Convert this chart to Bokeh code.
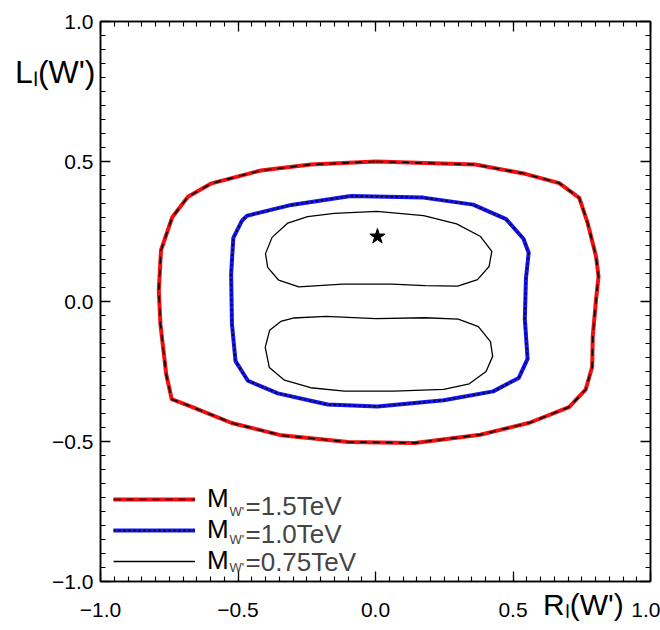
from bokeh.plotting import figure
from bokeh.models import (LinearAxis, SingleIntervalTicker, FixedTicker, Label,
                          Legend, LegendItem, Range1d)
from bokeh.embed import file_html
from bokeh.resources import INLINE
from bokeh.core.properties import value

# ---------------- data ----------------
# M_W' = 1.5 TeV contour
red_x = [0.002, 0.363, 0.544, 0.668, 0.741, 0.771, 0.802, 0.811, 0.802, 0.790,
         0.788, 0.764, 0.704, 0.560, 0.381, 0.143, -0.099, -0.342, -0.523, -0.668,
         -0.741, -0.761, -0.782, -0.788, -0.780, -0.739, -0.682, -0.596, -0.417,
         -0.236]
red_y = [0.500, 0.489, 0.456, 0.423, 0.370, 0.282, 0.161, 0.089, 0.007, -0.125,
         -0.233, -0.315, -0.377, -0.433, -0.476, -0.505, -0.502, -0.478, -0.434,
         -0.376, -0.349, -0.260, -0.082, 0.040, 0.183, 0.301, 0.374, 0.422, 0.468,
         0.489]

# M_W' = 1.0 TeV contour
blue_x = [-0.090, 0.174, 0.355, 0.475, 0.538, 0.557, 0.547, 0.543, 0.553, 0.521,
          0.428, 0.248, 0.007, -0.174, -0.355, -0.464, -0.509, -0.522, -0.525,
          -0.517, -0.486, -0.468, -0.306]
blue_y = [0.377, 0.371, 0.346, 0.294, 0.224, 0.174, 0.081, -0.062, -0.205, -0.273,
          -0.321, -0.353, -0.375, -0.368, -0.328, -0.283, -0.213, -0.081, 0.098,
          0.227, 0.288, 0.306, 0.345]

# M_W' = 0.75 TeV contours (two islands)
upper_x = [-0.150, 0.005, 0.175, 0.295, 0.382, 0.423, 0.413, 0.371, 0.299, 0.180,
           0.060, -0.120, -0.279, -0.352, -0.392, -0.400, -0.376, -0.319, -0.247]
upper_y = [0.315, 0.322, 0.307, 0.277, 0.232, 0.179, 0.125, 0.078, 0.055, 0.057,
           0.062, 0.062, 0.052, 0.076, 0.122, 0.171, 0.229, 0.280, 0.303]
lower_x = [-0.299, -0.180, 0.001, 0.182, 0.301, 0.374, 0.418, 0.426, 0.402, 0.341,
           0.248, 0.067, -0.113, -0.236, -0.331, -0.386, -0.401, -0.385, -0.342]
lower_y = [-0.059, -0.053, -0.061, -0.058, -0.063, -0.090, -0.143, -0.196, -0.250,
           -0.294, -0.314, -0.320, -0.320, -0.308, -0.281, -0.236, -0.164, -0.103,
           -0.070]

star_x = [0.007]
star_y = [0.232]

tick_values = [-1.0, -0.5, 0.0, 0.5, 1.0]
tick_labels = ["\u22121.0", "\u22120.5", "0.0", "0.5", "1.0"]
legend_masses = ["=1.5TeV", "=1.0TeV", "=0.75TeV"]
y_title = "L\u2097(W')"
x_title = "R\u2097(W')"
FONT = "Liberation Sans, Arial, Helvetica, sans-serif"


def closed(a):
    return list(a) + [a[0]]


p = figure(width=660, height=630, x_range=Range1d(-1, 1), y_range=Range1d(-1, 1),
           output_backend="svg", toolbar_location=None,
           min_border_left=100, min_border_right=10,
           min_border_top=21, min_border_bottom=49,
           background_fill_color="white", border_fill_color="white")
p.grid.visible = False
p.outline_line_color = "black"
p.outline_line_width = 1.5

p.add_layout(LinearAxis(), "above")
p.add_layout(LinearAxis(), "right")

overrides = {v: t for v, t in zip(tick_values, tick_labels)}
for ax in list(p.xaxis) + list(p.yaxis):
    ax.ticker = SingleIntervalTicker(interval=0.5, num_minor_ticks=10)
    ax.axis_line_color = "black"
    ax.axis_line_width = 1.5
    ax.major_tick_in = 10
    ax.major_tick_out = 0
    ax.minor_tick_in = 5
    ax.minor_tick_out = 0
    ax.major_tick_line_color = "black"
    ax.minor_tick_line_color = "black"
    ax.major_tick_line_width = 1.3
    ax.minor_tick_line_width = 1.1
    ax.major_label_text_font = FONT
    ax.major_label_text_font_size = "21px"
    ax.major_label_text_color = "black"
    ax.major_label_overrides = overrides

p.below[0].major_label_standoff = 21
p.left[0].major_label_standoff = 7
for ax in (p.above[0], p.right[0]):
    ax.major_label_text_color = None
    ax.major_label_text_alpha = 0
    ax.major_label_text_font_size = "1px"
    ax.major_label_standoff = 0


# axis titles: carried by label-only axes stacked outside the tick-label axes
def title_axis(pos, text, standoff, size):
    ax = LinearAxis(ticker=FixedTicker(ticks=[pos], minor_ticks=[]),
                    major_label_overrides={pos: text},
                    major_label_text_font=FONT, major_label_text_font_size=size,
                    major_label_text_color="black",
                    major_label_standoff=standoff,
                    axis_line_color=None, major_tick_line_color=None,
                    minor_tick_line_color=None, major_tick_in=0, major_tick_out=0,
                    minor_tick_in=0, minor_tick_out=0)
    return ax


p.add_layout(title_axis(0.818, y_title, -46, "32px"), "left")
p.add_layout(title_axis(0.756, x_title, -32, "30px"), "below")

# contours
r_red = p.line(closed(red_x), closed(red_y), line_color="#f01010", line_width=4,
               line_join="round")
r_red_d = p.line(closed(red_x), closed(red_y), line_color="black", line_width=1.6,
                 line_dash="7 6")
r_blue = p.line(closed(blue_x), closed(blue_y), line_color="#1515f0", line_width=4,
                line_join="round")
r_blue_d = p.line(closed(blue_x), closed(blue_y), line_color="black", line_width=1.6,
                  line_dash="2 3")
r_blk = p.line(closed(upper_x), closed(upper_y), line_color="black", line_width=1.3,
               line_join="round")
p.line(closed(lower_x), closed(lower_y), line_color="black", line_width=1.3,
       line_join="round")
p.scatter(star_x, star_y, marker="star", size=16, color="black")

# legend: glyph samples + the "M" of each label
legend = Legend(items=[LegendItem(label=value("M"), renderers=[r_red, r_red_d]),
                       LegendItem(label=value("M"), renderers=[r_blue, r_blue_d]),
                       LegendItem(label=value("M"), renderers=[r_blk])],
                location=(13, 5), orientation="vertical", glyph_width=82,
                glyph_height=20, label_height=20, label_width=20, spacing=-2,
                padding=0, margin=0, label_standoff=12,
                border_line_alpha=0, background_fill_alpha=0,
                label_text_font=FONT, label_text_font_size="26px",
                label_text_color="black")
p.add_layout(legend)

# rest of the legend texts (screen units, relative to the frame's lower left)
row_sy = [76, 48, 20]
for sy, mass in zip(row_sy, legend_masses):
    p.add_layout(Label(x=129, y=sy - 6, x_units="screen", y_units="screen",
                       text="W'", text_font=FONT, text_font_size="13px",
                       text_baseline="middle"))
    p.add_layout(Label(x=145, y=sy, x_units="screen", y_units="screen",
                       text=mass, text_font=FONT, text_font_size="26px",
                       text_baseline="middle"))

open("out.html", "w").write(file_html(p, INLINE))
